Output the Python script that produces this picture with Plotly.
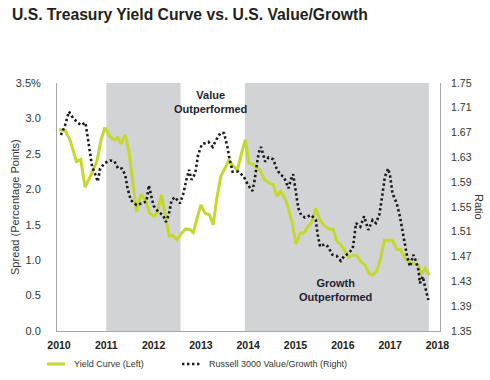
import plotly.graph_objects as go

# ---------------- data ----------------
years = [2010, 2011, 2012, 2013, 2014, 2015, 2016, 2017, 2018]

yc_x = [2010.00, 2010.13, 2010.23, 2010.37, 2010.46, 2010.55, 2010.66, 2010.80, 2010.89, 2010.97,
        2011.08, 2011.17, 2011.24, 2011.31, 2011.40, 2011.48, 2011.64, 2011.73, 2011.82, 2011.92,
        2012.01, 2012.08, 2012.17, 2012.24, 2012.33, 2012.40, 2012.49, 2012.59, 2012.68, 2012.77,
        2012.84, 2012.91, 2013.00, 2013.09, 2013.18, 2013.26, 2013.33, 2013.42, 2013.51, 2013.59,
        2013.67, 2013.77, 2013.86, 2013.94, 2014.01, 2014.11, 2014.25, 2014.35, 2014.46, 2014.53,
        2014.60, 2014.69, 2014.78, 2014.85, 2014.93, 2015.01, 2015.10, 2015.19, 2015.27, 2015.34,
        2015.43, 2015.52, 2015.62, 2015.71, 2015.80, 2015.87, 2015.97, 2016.03, 2016.12, 2016.21,
        2016.29, 2016.38, 2016.47, 2016.56, 2016.63, 2016.72, 2016.79, 2016.88, 2016.96, 2017.05,
        2017.14, 2017.22, 2017.31, 2017.42, 2017.51, 2017.60, 2017.65, 2017.74, 2017.83]
yc_vals = [2.84, 2.83, 2.70, 2.39, 2.42, 2.03, 2.18, 2.39, 2.70, 2.87,
           2.74, 2.70, 2.73, 2.64, 2.77, 2.53, 1.68, 1.93, 1.86, 1.66,
           1.62, 1.68, 1.92, 1.64, 1.34, 1.35, 1.29, 1.38, 1.44, 1.43,
           1.39, 1.57, 1.78, 1.66, 1.64, 1.50, 1.85, 2.18, 2.30, 2.41,
           2.34, 2.27, 2.51, 2.70, 2.37, 2.35, 2.27, 2.13, 2.08, 2.07,
           1.90, 1.97, 1.87, 1.73, 1.52, 1.23, 1.38, 1.39, 1.48, 1.53,
           1.73, 1.56, 1.48, 1.44, 1.43, 1.27, 1.21, 1.14, 1.04, 1.07,
           1.07, 0.98, 0.93, 0.81, 0.79, 0.85, 1.00, 1.28, 1.28, 1.28,
           1.15, 1.15, 1.03, 0.96, 0.95, 0.93, 0.80, 0.88, 0.79]

r3_x = [2010.04, 2010.13, 2010.21, 2010.30, 2010.46, 2010.56, 2010.61, 2010.65, 2010.70, 2010.76,
        2010.82, 2010.87, 2010.97, 2011.08, 2011.17, 2011.25, 2011.33, 2011.40, 2011.45, 2011.52,
        2011.64, 2011.76, 2011.85, 2011.90, 2011.95, 2012.00, 2012.10, 2012.20, 2012.26, 2012.32,
        2012.38, 2012.45, 2012.56, 2012.63, 2012.70, 2012.75, 2012.80, 2012.88, 2012.94, 2013.02,
        2013.16, 2013.25, 2013.33, 2013.42, 2013.49, 2013.56, 2013.61, 2013.67, 2013.79, 2013.90,
        2014.00, 2014.09, 2014.13, 2014.17, 2014.22, 2014.27, 2014.32, 2014.36, 2014.43, 2014.53,
        2014.60, 2014.67, 2014.76, 2014.85, 2014.90, 2014.95, 2014.99, 2015.02, 2015.06, 2015.12,
        2015.20, 2015.33, 2015.43, 2015.47, 2015.52, 2015.61, 2015.69, 2015.78, 2015.87, 2015.96,
        2016.03, 2016.12, 2016.21, 2016.24, 2016.28, 2016.37, 2016.45, 2016.54, 2016.63, 2016.70,
        2016.77, 2016.82, 2016.86, 2016.89, 2016.96, 2017.00, 2017.05, 2017.14, 2017.21, 2017.26,
        2017.31, 2017.36, 2017.42, 2017.49, 2017.55, 2017.60, 2017.63, 2017.69, 2017.74, 2017.77,
        2017.81]
r3_vals = [1.666, 1.682, 1.704, 1.693, 1.682, 1.686, 1.661, 1.637, 1.615, 1.604,
           1.591, 1.612, 1.621, 1.625, 1.624, 1.612, 1.612, 1.602, 1.580, 1.561,
           1.553, 1.556, 1.559, 1.585, 1.567, 1.552, 1.542, 1.537, 1.526, 1.537,
           1.561, 1.566, 1.556, 1.572, 1.596, 1.610, 1.594, 1.604, 1.634, 1.651,
           1.655, 1.647, 1.659, 1.670, 1.669, 1.647, 1.626, 1.607, 1.607, 1.600,
           1.585, 1.576, 1.591, 1.611, 1.637, 1.647, 1.634, 1.623, 1.630, 1.627,
           1.612, 1.603, 1.598, 1.580, 1.594, 1.603, 1.583, 1.564, 1.548, 1.537,
           1.533, 1.537, 1.529, 1.505, 1.486, 1.490, 1.486, 1.473, 1.471, 1.463,
           1.471, 1.475, 1.483, 1.500, 1.524, 1.518, 1.535, 1.513, 1.529, 1.524,
           1.537, 1.561, 1.583, 1.599, 1.612, 1.600, 1.572, 1.556, 1.534, 1.513,
           1.489, 1.470, 1.454, 1.473, 1.462, 1.448, 1.427, 1.438, 1.421, 1.413,
           1.400]

left_ticks = [0.0, 0.5, 1.0, 1.5, 2.0, 2.5, 3.0, 3.5]
left_ticktext = ["0.0", "0.5", "1.0", "1.5", "2.0", "2.5", "3.0", "3.5%"]
right_ticks = [1.35, 1.39, 1.43, 1.47, 1.51, 1.55, 1.59, 1.63, 1.67, 1.71, 1.75]
right_ticktext = ["1.35", "1.39", "1.43", "1.47", "1.51", "1.55", "1.59", "1.63", "1.67", "1.71", "1.75"]

growth_periods = [(2011.0, 2012.57), (2013.93, 2017.82)]

series_names = ["Yield Curve (Left)", "Russell 3000 Value/Growth (Right)"]

# ---------------- figure ----------------
FONT = "Liberation Sans, Arial, sans-serif"
GREEN = "#c4d82e"
DOTS = "#1a1a1a"
DOT_DASH = "2.4px,2.6px"
SHADE = "#d1d3d4"
AXIS = "#a8a8a8"
TXT = "#333333"

fig = go.Figure()

fig.add_trace(go.Scatter(
    x=yc_x, y=yc_vals, mode="lines", name=series_names[0],
    line=dict(color=GREEN, width=3), yaxis="y", showlegend=False))

fig.add_trace(go.Scatter(
    x=r3_x, y=r3_vals, mode="lines", name=series_names[1],
    line=dict(color=DOTS, width=2.6, dash=DOT_DASH), yaxis="y2", showlegend=False))

for x0, x1 in growth_periods:
    fig.add_shape(type="rect", xref="x", yref="paper", x0=x0, x1=x1, y0=0, y1=1,
                  fillcolor=SHADE, line=dict(width=0), layer="below")

# legend (drawn below the plot, as in the reference)
LEG_Y = -0.133
fig.add_shape(type="line", xref="paper", yref="paper", x0=-0.0261, x1=0.0209, y0=LEG_Y, y1=LEG_Y,
              line=dict(color=GREEN, width=3))
fig.add_annotation(x=0.0392, y=LEG_Y, xref="paper", yref="paper", xanchor="left", yanchor="middle",
                   text=series_names[0], showarrow=False,
                   font=dict(family=FONT, size=9, color=TXT))
fig.add_shape(type="line", xref="paper", yref="paper", x0=0.3264, x1=0.3786, y0=LEG_Y, y1=LEG_Y,
              line=dict(color=DOTS, width=2.6, dash=DOT_DASH))
fig.add_annotation(x=0.3916, y=LEG_Y, xref="paper", yref="paper", xanchor="left", yanchor="middle",
                   text=series_names[1], showarrow=False,
                   font=dict(family=FONT, size=9, color=TXT))

fig.add_annotation(x=2013.21, y=3.23, xref="x", yref="y",
                   text="<b>Value<br>Outperformed</b>", showarrow=False,
                   font=dict(family=FONT, size=11, color="#1e2433"))
fig.add_annotation(x=2015.84, y=0.58, xref="x", yref="y",
                   text="<b>Growth<br>Outperformed</b>", showarrow=False,
                   font=dict(family=FONT, size=11, color="#1e2433"))

fig.add_annotation(x=-0.1097, y=0.5, xref="paper", yref="paper", xanchor="center", yanchor="middle",
                   text="Spread (Percentage Points)", textangle=-90, showarrow=False,
                   font=dict(family=FONT, size=11, color=TXT))
fig.add_annotation(x=1.102, y=0.5, xref="paper", yref="paper", xanchor="center", yanchor="middle",
                   text="Ratio", textangle=90, showarrow=False,
                   font=dict(family=FONT, size=11, color=TXT))

fig.update_layout(
    width=490, height=380,
    margin=dict(l=57, r=50, t=83, b=49, autoexpand=False),
    paper_bgcolor="white", plot_bgcolor="white",
    font=dict(family=FONT, size=11, color=TXT),
    title=dict(text="<b>U.S. Treasury Yield Curve vs. U.S. Value/Growth</b>",
               xref="container", yref="container", x=12 / 490, xanchor="left",
               y=1 - 15 / 380, yanchor="middle",
               font=dict(family=FONT, size=15.7, color="#231f20")),
    showlegend=False,
    xaxis=dict(range=[2009.958, 2018.055], tickvals=years, ticktext=[str(y) for y in years],
               showline=True, linecolor=AXIS, linewidth=1, showgrid=False, zeroline=False,
               ticks="", ticklabelstandoff=4,
               tickfont=dict(family=FONT, size=10.5, color="#222222", weight="bold")),
    yaxis=dict(range=[0, 3.5], tickvals=left_ticks, ticktext=left_ticktext,
               showline=True, linecolor=AXIS, linewidth=1, showgrid=False, zeroline=False,
               ticks="", ticklabelstandoff=13, tickfont=dict(size=11)),
    yaxis2=dict(range=[1.35, 1.75], tickvals=right_ticks, ticktext=right_ticktext,
                overlaying="y", side="right",
                showline=True, linecolor=AXIS, linewidth=1, showgrid=False, zeroline=False,
                ticks="", ticklabelstandoff=8, tickfont=dict(size=10.5)),
)

# the page body has a default 8px margin; remove it so the 490x380 figure fills the window
fig.write_html("out.html", config={"displayModeBar": False},
               post_script="document.body.style.margin='0';")
